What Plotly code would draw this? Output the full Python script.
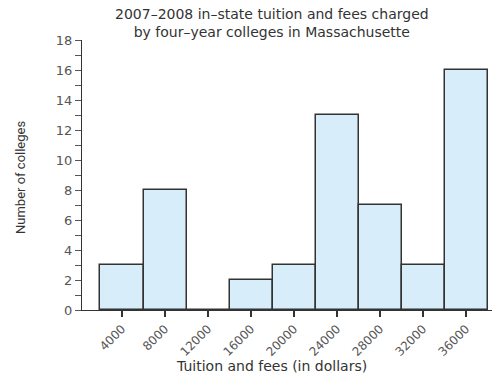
import plotly.graph_objects as go

bin_centers = [4000, 8000, 12000, 16000, 20000, 24000, 28000, 32000, 36000]
counts = [3, 8, 0, 2, 3, 13, 7, 3, 16]
x_tick_labels = ["4000", "8000", "12000", "16000", "20000", "24000", "28000", "32000", "36000"]
y_tick_values = list(range(0, 19))
y_tick_labels = [str(v) if v % 2 == 0 else "" for v in y_tick_values]

title_text = "2007–2008 in–state tuition and fees charged<br>by four–year colleges in Massachusette"
x_title = "Tuition and fees (in dollars)"
y_title = "Number of colleges"

fig = go.Figure()
fig.add_trace(go.Bar(
    x=bin_centers, y=counts, width=4000,
    marker=dict(color="#d7edf9", line=dict(color="#333333", width=1.5)),
    showlegend=False,
))

# the page body has an 8px default margin, so the figure is laid out 8px up/left
fig.update_layout(
    width=500, height=377,
    margin=dict(l=74, r=8, t=32, b=75),
    paper_bgcolor="white", plot_bgcolor="white",
    font=dict(family="DejaVu Sans", color="#444444", size=11),
    bargap=0,
    annotations=[
        dict(text=title_text, xref="paper", yref="paper", x=0.4545, y=1.0, yshift=17,
             xanchor="center", yanchor="middle", showarrow=False, borderpad=0,
             font=dict(family="DejaVu Sans", size=14, color="#333333")),
        dict(text=x_title, xref="paper", yref="paper", x=0.4545, y=0, yshift=-56,
             xanchor="center", yanchor="middle", showarrow=False,
             font=dict(family="DejaVu Sans", size=14, color="#333333")),
        dict(text=y_title, xref="paper", yref="paper", x=0, xshift=-62, y=0.5, yshift=-3,
             xanchor="center", yanchor="middle", showarrow=False, textangle=-90,
             font=dict(family="Liberation Sans Narrow, Roboto, sans-serif", size=13, color="#333333")),
    ],
)
fig.update_xaxes(
    range=[280, 39160], tickvals=bin_centers, ticktext=x_tick_labels, tickangle=-45,
    showline=True, linecolor="#333333", linewidth=1.2, automargin=False,
    ticks="outside", ticklen=6, tickwidth=1.5, tickcolor="#333333",
    showgrid=False, zeroline=False,
    tickfont=dict(family="DejaVu Sans", size=12, color="#555555"),
)
fig.update_yaxes(
    range=[0, 18], tickvals=y_tick_values, ticktext=y_tick_labels,
    showline=True, linecolor="#333333", linewidth=1.2, automargin=False,
    ticks="outside", ticklen=6, tickwidth=1, tickcolor="#555555",
    showgrid=False, zeroline=False,
    tickfont=dict(family="DejaVu Sans", size=13, color="#555555"),
)

fig.write_html("out.html")
